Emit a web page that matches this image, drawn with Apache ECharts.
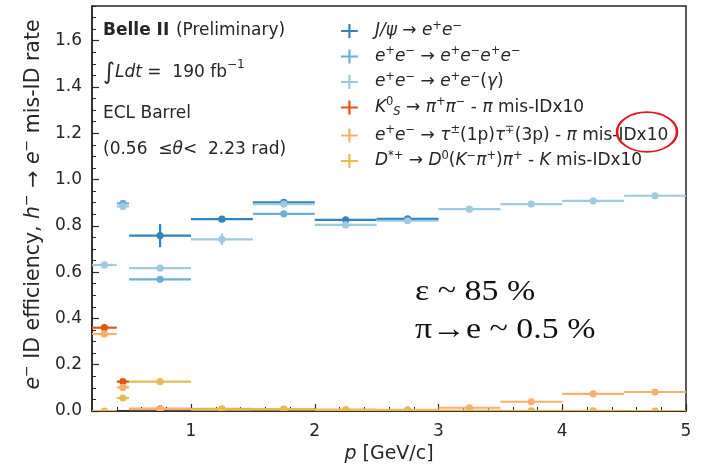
<!DOCTYPE html>
<html><head><meta charset="utf-8">
<script src="https://cdn.jsdelivr.net/npm/echarts@6/dist/echarts.min.js"></script>
<style>html,body{margin:0;padding:0;background:#fff}#c{width:707px;height:469px}</style>
</head><body><div id="c"></div>
<script>
// ---- data ----
const binEdges = [0.2, 0.4, 0.5, 1.0, 1.5, 2.0, 2.5, 3.0, 3.5, 4.0, 4.5, 5.0];

const jpsiP   = [0.75, 1.25, 1.75, 2.25, 2.75];
const jpsiV   = [0.758, 0.829, 0.902, 0.826, 0.830];
const jpsiErr = [0.050, 0.006, 0.006, 0.005, 0.005];

const eeeeP   = [0.45, 0.75, 1.75];
const eeeeV   = [0.897, 0.569, 0.852];
const eeeeErr = [0.008, 0.005, 0.004];

const eegP    = [0.3, 0.45, 0.75, 1.25, 1.75, 2.25, 2.75, 3.25, 3.75, 4.25, 4.75];
const eegV    = [0.631, 0.884, 0.617, 0.742, 0.894, 0.804, 0.822, 0.872, 0.894, 0.908, 0.930];
const eegErr  = [0.004, 0.006, 0.003, 0.025, 0.004, 0.003, 0.003, 0.003, 0.003, 0.003, 0.003];

const ksP     = [0.3, 0.45, 0.75];
const ksV     = [0.360, 0.127, 0.009];
const ksErr   = [0.005, 0.004, 0.001];

const tauP    = [0.3, 0.45, 0.75, 1.25, 1.75, 2.25, 2.75, 3.25, 3.75, 4.25, 4.75];
const tauV    = [0.333, 0.102, 0.008, 0.006, 0.007, 0.006, 0.005, 0.014, 0.040, 0.074, 0.082];
const tauErr  = [0.005, 0.004, 0.001, 0.001, 0.001, 0.001, 0.001, 0.002, 0.003, 0.003, 0.003];

const dstP    = [0.3, 0.45, 0.75, 1.25, 1.75, 2.25, 2.75, 3.25, 3.75, 4.25, 4.75];
const dstV    = [0.000, 0.056, 0.127, 0.009, 0.008, 0.004, 0.003, 0.002, 0.001, 0.001, 0.000];
const dstErr  = [0.001, 0.003, 0.003, 0.001, 0.001, 0.001, 0.001, 0.001, 0.001, 0.001, 0.001];

const xTickValues = [1, 2, 3, 4, 5];
const yTickValues = [0.0, 0.2, 0.4, 0.6, 0.8, 1.0, 1.2, 1.4, 1.6];

const seriesNames = ['jpsi', 'eeee', 'eeg', 'ks', 'tau', 'dstar'];
const legendLabels = {
  jpsi:  '{i|J/ψ}{n| → }{i|e}{s|+}{i|e}{s|−}',
  eeee:  '{i|e}{s|+}{i|e}{s|−}{n| → }{i|e}{s|+}{i|e}{s|−}{i|e}{s|+}{i|e}{s|−}',
  eeg:   '{i|e}{s|+}{i|e}{s|−}{n| → }{i|e}{s|+}{i|e}{s|−}{n|(}{i|γ}{n|)}',
  ks:    '{i|K}{s|0}{b|S}{n| → }{i|π}{s|+}{i|π}{s|−}{n| - }{i|π}{n| mis-IDx10}',
  tau:   '{i|e}{s|+}{i|e}{s|−}{n| → }{i|τ}{s|±}{n|(1p)}{i|τ}{s|∓}{n|(3p) - }{i|π}{n| mis-IDx10}',
  dstar: '{i|D}{s|*+}{n| → }{i|D}{s|0}{n|(}{i|K}{s|−}{i|π}{s|+}{n|)}{i|π}{s|+}{n| - }{i|K}{n| mis-IDx10}'
};
const colors = ['#3182bd', '#6baed6', '#9ecae1', '#e6550d', '#fdae6b', '#e7ba52'];

// ---- build ----
function toItems(P, V, E) {
  return P.map((p, k) => {
    let lo = binEdges[0], hi = binEdges[binEdges.length - 1];
    for (const e of binEdges) { if (e < p) lo = e; }
    for (let j = binEdges.length - 1; j >= 0; j--) { if (binEdges[j] > p) hi = binEdges[j]; }
    return [p, V[k], lo, hi, E[k]];
  });
}
const dataSets = [
  toItems(jpsiP, jpsiV, jpsiErr),
  toItems(eeeeP, eeeeV, eeeeErr),
  toItems(eegP, eegV, eegErr),
  toItems(ksP, ksV, ksErr),
  toItems(tauP, tauV, tauErr),
  toItems(dstP, dstV, dstErr)
];

function makeRender(color) {
  return function (params, api) {
    const p = api.value(0), v = api.value(1), lo = api.value(2), hi = api.value(3), e = api.value(4);
    const a = api.coord([lo, v]), b = api.coord([hi, v]), c = api.coord([p, v]);
    const t = api.coord([p, v + e]), d = api.coord([p, v - e]);
    return {
      type: 'group', children: [
        { type: 'line', shape: { x1: a[0], y1: a[1], x2: b[0], y2: b[1] }, style: { stroke: color, lineWidth: 2.2 } },
        { type: 'line', shape: { x1: t[0], y1: t[1], x2: d[0], y2: d[1] }, style: { stroke: color, lineWidth: 2.2 } },
        { type: 'circle', shape: { cx: c[0], cy: c[1], r: 3.6 }, style: { fill: color } }
      ]
    };
  };
}

const FONT = 'DejaVu Sans';
const TXT = '#262626';
const crossIcon = 'path://M7.3,0h2.2v5.9h7.3v2.2h-7.3v5.9h-2.2v-5.9h-7.3v-2.2h7.3z';

const LF = 17;
const richLegend = {
  n: { fontFamily: FONT, fontSize: LF, color: TXT, lineHeight: 22 },
  i: { fontFamily: FONT, fontSize: LF, fontStyle: 'italic', color: TXT, lineHeight: 22 },
  s: { fontFamily: FONT, fontSize: 11.5, color: TXT, lineHeight: 13, verticalAlign: 'top' },
  b: { fontFamily: FONT, fontSize: 11.5, fontStyle: 'italic', color: TXT, lineHeight: 12, verticalAlign: 'bottom' }
};

const series = seriesNames.map((nm, k) => ({
  type: 'custom',
  name: nm,
  xAxisIndex: 0, yAxisIndex: 0,
  renderItem: makeRender(colors[k]),
  itemStyle: { color: colors[k] },
  encode: { x: [0, 2, 3], y: 1 },
  data: dataSets[k],
  clip: true,
  z: 2 + k
}));

const AF = 19;
const YF = 20.5;
const chart = echarts.init(document.getElementById('c'), null, { renderer: 'canvas' });
chart.setOption({
  animation: false,
  backgroundColor: '#fff',
  grid: { left: 92, right: 21, top: 6, bottom: 58, show: true, borderColor: TXT, borderWidth: 1.5, backgroundColor: 'transparent' },
  xAxis: [
    {
      type: 'value', min: 0.2, max: 5, position: 'bottom',
      name: '{i|p} [GeV/c]', nameLocation: 'middle', nameGap: 34,
      nameTextStyle: { fontFamily: FONT, fontSize: AF, color: TXT,
        rich: { i: { fontFamily: FONT, fontSize: AF, fontStyle: 'italic', color: TXT } } },
      axisLine: { show: true, lineStyle: { color: TXT, width: 1.5 } },
      axisTick: { show: true, inside: true, length: 7, customValues: xTickValues, lineStyle: { color: TXT, width: 1.2 } },
      axisLabel: { customValues: xTickValues, margin: 12, fontFamily: FONT, fontSize: 17, color: TXT,
        formatter: v => String(Math.round(v)) },
      splitLine: { show: false }
    },
    {
      type: 'value', min: 0.2, max: 5, interval: 0.2, position: 'bottom',
      axisLine: { show: false },
      axisTick: { show: true, inside: true, length: 4, lineStyle: { color: TXT, width: 1 } },
      axisLabel: { show: false }, splitLine: { show: false }
    }
  ],
  yAxis: [
    {
      type: 'value', min: 0, max: 1.75, position: 'left',
      name: '{i|e}{s|−} ID efficiency, {i|h}{s|−} → {i|e}{s|−} mis-ID rate',
      nameLocation: 'middle', nameGap: 44, nameRotate: 90,
      nameTextStyle: { fontFamily: FONT, fontSize: YF, color: TXT, padding: [0, 0, 0, 8],
        rich: {
          i: { fontFamily: FONT, fontSize: YF, fontStyle: 'italic', color: TXT, lineHeight: 27 },
          s: { fontFamily: FONT, fontSize: 14, color: TXT, lineHeight: 16, verticalAlign: 'top' }
        } },
      axisLine: { show: true, lineStyle: { color: TXT, width: 1.5 } },
      axisTick: { show: true, inside: true, length: 7, customValues: yTickValues, lineStyle: { color: TXT, width: 1.2 } },
      axisLabel: { customValues: yTickValues, margin: 10, fontFamily: FONT, fontSize: 17, color: TXT,
        formatter: v => v.toFixed(1) },
      splitLine: { show: false }
    },
    {
      type: 'value', min: 0, max: 1.75, interval: 0.05, position: 'left',
      axisLine: { show: false },
      axisTick: { show: true, inside: true, length: 4, lineStyle: { color: TXT, width: 1 } },
      axisLabel: { show: false }, splitLine: { show: false }
    }
  ],
  legend: {
    orient: 'vertical', left: 336, top: 15,
    itemWidth: 17, itemHeight: 14, itemGap: 6,
    data: seriesNames.map(n => ({ name: n, icon: crossIcon })),
    formatter: n => legendLabels[n],
    textStyle: { fontFamily: FONT, fontSize: LF, color: TXT, padding: [0, 0, 0, 12], rich: richLegend },
    selectedMode: false
  },
  graphic: [
    { type: 'text', left: 103, top: 22, style: {
        text: '{b|Belle II}  {n|(Preliminary)}',
        rich: { b: { fontFamily: FONT, fontSize: 17, fontWeight: 'bold', fill: TXT },
                n: { fontFamily: FONT, fontSize: 17, fill: TXT } } } },
    { type: 'text', left: 103, top: 59, style: {
        text: '{g|∫}{i|Ldt}{n| =  190 fb}{s|−1}',
        rich: { g: { fontFamily: FONT, fontSize: 23, fill: TXT, lineHeight: 28 },
                i: { fontFamily: FONT, fontSize: 17, fontStyle: 'italic', fill: TXT, lineHeight: 28 },
                n: { fontFamily: FONT, fontSize: 17, fill: TXT, lineHeight: 28 },
                s: { fontFamily: FONT, fontSize: 12, fill: TXT, lineHeight: 20, verticalAlign: 'top' } } } },
    { type: 'text', left: 103, top: 105, style: { text: 'ECL Barrel', fontFamily: FONT, fontSize: 17, fill: TXT } },
    { type: 'text', left: 103, top: 141, style: {
        text: '{n|(0.56  ≤}{i|θ}{n|<  2.23 rad)}',
        rich: { n: { fontFamily: FONT, fontSize: 17, fill: TXT }, i: { fontFamily: FONT, fontSize: 17, fontStyle: 'italic', fill: TXT } } } },
    { type: 'text', x: 415, y: 277, scaleX: 1.13, style: { text: 'ε ~ 85 %', fontFamily: 'Liberation Serif', fontSize: 30, fill: '#111' } },
    { type: 'text', x: 415, y: 315, scaleX: 1.13, style: { text: 'π→e ~ 0.5 %', fontFamily: 'Liberation Serif', fontSize: 30, fill: '#111' } },
    { type: 'circle', x: 647, y: 132, scaleY: 0.66, shape: { cx: 0, cy: 0, r: 30 },
      style: { fill: 'none', stroke: '#e8141a', lineWidth: 2.6, strokeNoScale: true }, z: 100 }
  ],
  series: series
});
</script>
</body></html>
